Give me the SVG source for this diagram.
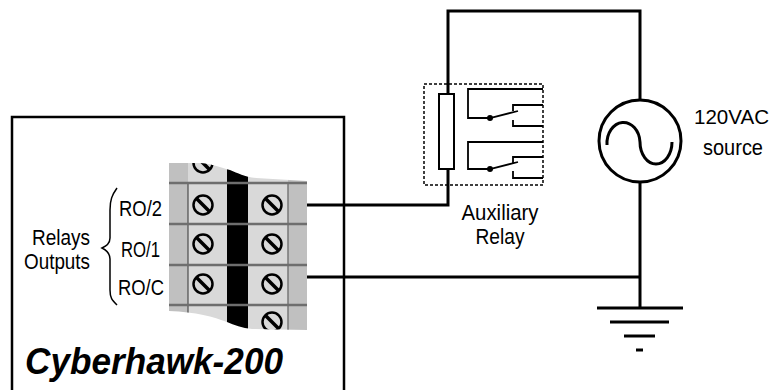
<svg xmlns="http://www.w3.org/2000/svg" width="773" height="390" viewBox="0 0 773 390">
<style>
text{font-family:"Liberation Sans",Arial,sans-serif;fill:#000}
.lbl{font-size:22px}
.wire{fill:none;stroke:#000;stroke-width:3}
.thin{fill:none;stroke:#000;stroke-width:1.8}
.dk{fill:#c0c0c0}
.lt{fill:#d9d9d9}
.blk{fill:#000}
.sep{stroke:#6e6e6e;stroke-width:2.5}
.scr{fill:#d9d9d9;stroke:#000;stroke-width:2.5}
.slot{stroke:#000;stroke-width:3.5;stroke-linecap:butt}
</style>
<defs>
<g id="screw"><circle r="9.5" class="scr"/><line x1="-6.5" y1="-6.5" x2="6.5" y2="6.5" class="slot"/></g>
<g id="cols">
<rect x="169" y="150" width="19" height="200" class="dk"/>
<rect x="188" y="150" width="39" height="200" class="lt"/>
<rect x="227" y="150" width="21" height="200" class="blk"/>
<rect x="248" y="150" width="40" height="200" class="lt"/>
<rect x="288" y="150" width="19" height="200" class="dk"/>
</g>
<clipPath id="topTorn"><path d="M169,163 L200,163 C214,164 222,168 230,170 C238,173 244,177 256,178 L307,181 L307,185 L169,185 Z"/></clipPath>
<clipPath id="mid"><rect x="169" y="183" width="138" height="122"/></clipPath>
<clipPath id="botTorn"><path d="M169,304 L307,304 L307,330 L252,329 C242,328 234,325 227,322 C214,317 196,312 169,311 Z"/></clipPath>
</defs>

<g id="controller">
<path d="M12,390 L12,117 L344,117 L344,390" fill="none" stroke="#000" stroke-width="2.5"/>
<text x="25" y="374" font-size="36" font-weight="bold" font-style="italic" textLength="258" lengthAdjust="spacingAndGlyphs">Cyberhawk-200</text>
</g>

<g id="terminal-block">
<g clip-path="url(#topTorn)">
<use href="#cols"/>
<use href="#screw" x="203" y="163"/>
</g>
<g clip-path="url(#mid)">
<use href="#cols"/>
<line x1="188" y1="183" x2="188" y2="304" stroke="#333" stroke-width="1"/>
<line x1="288" y1="183" x2="288" y2="304" stroke="#777" stroke-width="1.5"/>
<use href="#screw" x="203" y="205"/>
<use href="#screw" x="272" y="205"/>
<use href="#screw" x="203" y="244"/>
<use href="#screw" x="272" y="244"/>
<use href="#screw" x="203" y="284"/>
<use href="#screw" x="272" y="284"/>
</g>
<g clip-path="url(#botTorn)">
<use href="#cols"/>
<line x1="188" y1="304" x2="188" y2="330" stroke="#333" stroke-width="1"/>
<line x1="288" y1="304" x2="288" y2="330" stroke="#777" stroke-width="1.5"/>
<use href="#screw" x="272" y="322"/>
</g>
<line x1="169" y1="183" x2="307" y2="183" class="sep"/>
<line x1="169" y1="224" x2="307" y2="224" class="sep"/>
<line x1="169" y1="265" x2="307" y2="265" class="sep"/>
<line x1="169" y1="305" x2="307" y2="305" class="sep"/>
</g>

<g id="relay-outputs-labels">
<path d="M117,188 C112,195 110,200 110,210 L110,238 C110,244 106,246 102,248 C106,250 110,253 110,259 L110,290 C110,298 112,300 117,305" fill="none" stroke="#000" stroke-width="1.5"/>
<text class="lbl" x="90" y="245" text-anchor="end" textLength="58" lengthAdjust="spacingAndGlyphs">Relays</text>
<text class="lbl" x="90" y="269" text-anchor="end" textLength="66" lengthAdjust="spacingAndGlyphs">Outputs</text>
<text class="lbl" x="119" y="216" textLength="43" lengthAdjust="spacingAndGlyphs">RO/2</text>
<text class="lbl" x="121" y="257" textLength="39" lengthAdjust="spacingAndGlyphs">RO/1</text>
<text class="lbl" x="118" y="295" textLength="46" lengthAdjust="spacingAndGlyphs">RO/C</text>
</g>

<g id="auxiliary-relay">
<rect x="424" y="84" width="119" height="101" fill="none" stroke="#000" stroke-width="1.5" stroke-dasharray="3,2"/>
<rect x="439" y="94" width="15" height="75" fill="#fff" stroke="#000" stroke-width="2"/>
<path class="thin" d="M543,89 L468,89 L468,118 L490,118 L518,111"/>
<path class="thin" d="M543,105 L513,105 L513,111"/>
<path class="thin" d="M513,120 L513,126 L543,126"/>
<circle cx="490" cy="118" r="3" fill="#000"/>
<path class="thin" d="M543,142 L468,142 L468,169 L490,169 L518,162"/>
<path class="thin" d="M543,157 L513,157 L513,163"/>
<path class="thin" d="M513,171 L513,178 L543,178"/>
<circle cx="490" cy="169" r="3" fill="#000"/>
<text class="lbl" x="500" y="220" text-anchor="middle" textLength="77" lengthAdjust="spacingAndGlyphs">Auxiliary</text>
<text class="lbl" x="500" y="244" text-anchor="middle" textLength="49" lengthAdjust="spacingAndGlyphs">Relay</text>
</g>

<g id="ac-source">
<circle cx="640" cy="141" r="41" fill="none" stroke="#000" stroke-width="3"/>
<path d="M607,145 A16.5,21 0 0 1 640,142 A16,22 0 0 0 672,142" fill="none" stroke="#000" stroke-width="3"/>
<text class="lbl" x="694" y="124" font-size="21" style="font-size:21px" textLength="75" lengthAdjust="spacingAndGlyphs">120VAC</text>
<text class="lbl" x="703" y="155" textLength="60" lengthAdjust="spacingAndGlyphs">source</text>
</g>

<g id="ground">
<line x1="597" y1="308" x2="683" y2="308" stroke="#000" stroke-width="3"/>
<line x1="610" y1="322" x2="669" y2="322" stroke="#000" stroke-width="3"/>
<line x1="624" y1="336" x2="655" y2="336" stroke="#000" stroke-width="3"/>
<line x1="636" y1="350" x2="643" y2="350" stroke="#000" stroke-width="3"/>
</g>

<g id="connectors">
<path class="wire" d="M448,94 L448,11 L640,11 L640,100"/>
<path class="wire" d="M307,205 L448,205 L448,169"/>
<path class="wire" d="M307,277 L640,277"/>
<path class="wire" d="M640,182 L640,308"/>
</g>
</svg>
